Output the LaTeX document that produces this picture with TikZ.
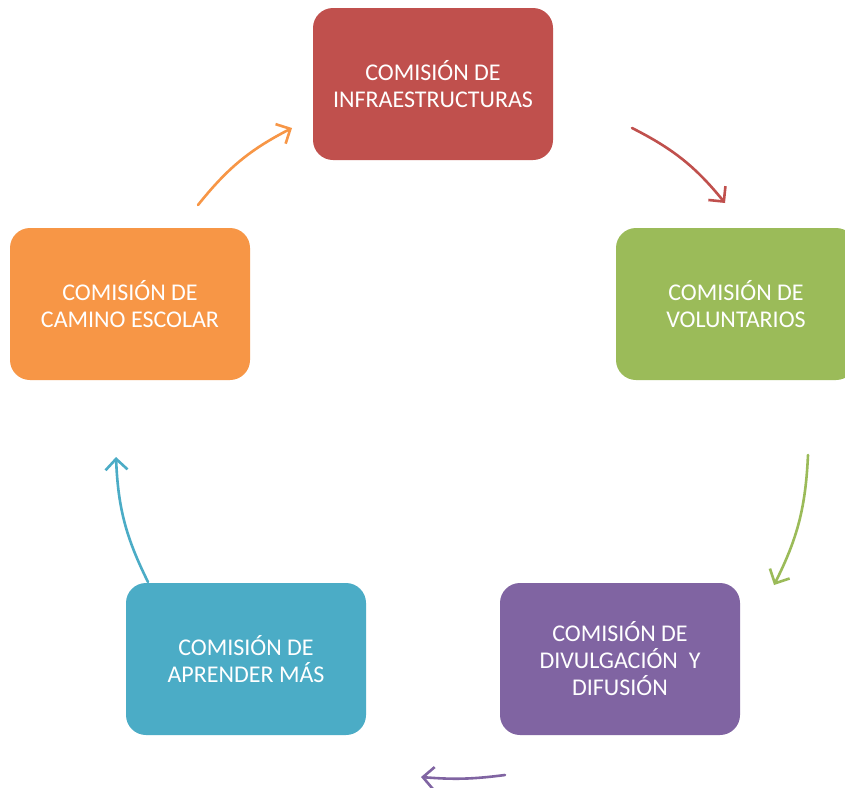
\documentclass[tikz,border=0pt]{standalone}
\usepackage{fontspec}
\setmainfont{Carlito}
\usetikzlibrary{arrows.meta}
\definecolor{cred}{HTML}{C0504D}
\definecolor{cgreen}{HTML}{9BBB59}
\definecolor{cpurple}{HTML}{8064A2}
\definecolor{cblue}{HTML}{4BACC6}
\definecolor{corange}{HTML}{F79646}
\tikzset{
  combox/.style={rounded corners=20pt, minimum width=240pt, minimum height=152pt,
    align=center, text=white, inner sep=0pt, font=\fontsize{24}{27}\selectfont},
  cyclearrow/.style={line width=2.6pt, line cap=round,
    -{Straight Barb[length=11pt,width=22pt,line width=2.6pt]}}
}
\begin{document}
\begin{tikzpicture}[x=1pt,y=-1pt]
\clip (0,0) rectangle (845,787);
\fill[white] (0,0) rectangle (845,787);
\node[combox, fill=cred] (infra) at (433,84) {COMISIÓN DE\\INFRAESTRUCTURAS};
\node[combox, fill=cgreen] (volun) at (736,304) {COMISIÓN DE\\VOLUNTARIOS};
\node[combox, fill=cpurple] (divul) at (620,659) {COMISIÓN DE\\DIVULGACIÓN\ \ Y\\DIFUSIÓN};
\node[combox, fill=cblue] (apren) at (246,659) {COMISIÓN DE\\APRENDER MÁS};
\node[combox, fill=corange] (camino) at (130,304) {COMISIÓN DE\\CAMINO ESCOLAR};
\coordinate (r1) at (632,128); \coordinate (r2) at (725,203);
\coordinate (g1) at (808,455); \coordinate (g2) at (774,585);
\coordinate (p1) at (505,775); \coordinate (p2) at (421,777);
\coordinate (b1) at (148,582); \coordinate (b2) at (116,457);
\coordinate (o1) at (198,205); \coordinate (o2) at (292,128);
\draw[cyclearrow, cred] (r1) to[bend left=12] (r2);
\draw[cyclearrow, cgreen] (g1) to[bend left=12] (g2);
\draw[cyclearrow, cpurple] (p1) to[bend left=6] (p2);
\draw[cyclearrow, cblue] (b1) to[bend left=12] (b2);
\draw[cyclearrow, corange] (o1) to[bend left=12] (o2);
\end{tikzpicture}
\end{document}
